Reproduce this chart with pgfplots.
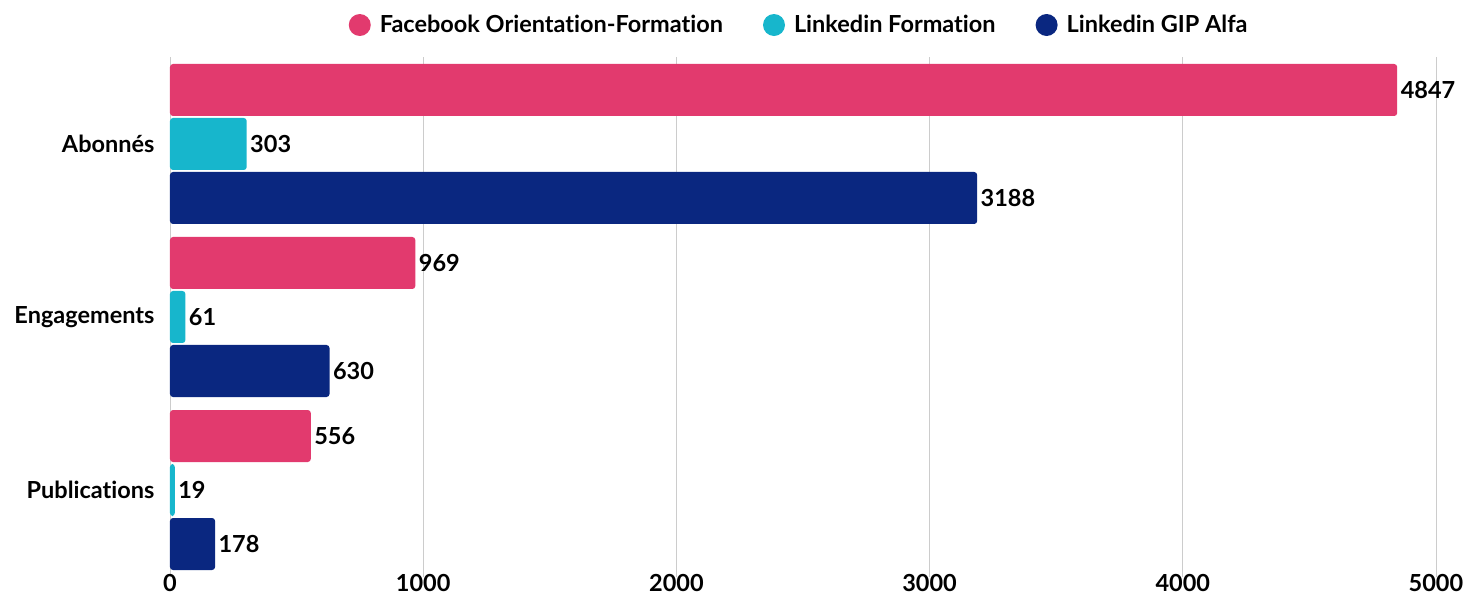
\documentclass[border=0pt]{standalone}
\usepackage{fontspec}
\setmainfont{Lato}[Ligatures={NoCommon,NoRare,NoContextual}]
\usepackage{pgfplots}
\pgfplotsset{compat=1.18}
\definecolor{pinkc}{HTML}{E23A6E}
\definecolor{cyanc}{HTML}{17B6CC}
\definecolor{navyc}{HTML}{0A2780}
\begin{document}
\begin{tikzpicture}[x=1pt,y=1pt]
\path[use as bounding box] (-170,-23.5) rectangle (1311,576.5);
\begin{axis}[
  at={(0,0)}, anchor=south west,
  scale only axis, width=1266pt, height=519pt,
  xbar, bar width=52pt,
  xmin=0, xmax=5000, ymin=-0.5, ymax=2.5,
  ytick={0,1,2}, yticklabels={Publications,Engagements,Abonnés},
  xtick={0,1000,2000,3000,4000,5000},
  axis line style={draw=none}, major tick length=0pt,
  xmajorgrids, grid style={black!20, line width=0.9pt},
  /pgf/number format/1000 sep={},
  /pgf/number format/assume math mode=true,
  tick label style={font=\bfseries\fontsize{23.5}{23.5}\selectfont, black},
  yticklabel style={xshift=-12pt},
  xticklabel style={yshift=3pt, inner sep=1pt},
  nodes near coords,
  nodes near coords style={font=\bfseries\fontsize{23.5}{23.5}\selectfont, black, anchor=west, xshift=0pt},
  legend style={at={(0.497,1.0626)}, anchor=center, draw=none, fill=none,
    legend columns=3, font=\bfseries\fontsize{23.5}{23.5}\selectfont,
    /tikz/every even column/.append style={column sep=38pt},
    /tikz/every odd column/.append style={column sep=0pt}},
  legend cell align=left,
]
\addplot[fill=pinkc, draw=none, rounded corners=3pt, bar shift=54pt,
  legend image code/.code={\fill[pinkc] (0pt,0pt) circle (11pt);}]
  coordinates {(4847,2) (969,1) (556,0)};
\addplot[fill=cyanc, draw=none, rounded corners=3pt, bar shift=0pt,
  legend image code/.code={\fill[cyanc] (0pt,0pt) circle (11pt);}]
  coordinates {(303,2) (61,1) (19,0)};
\addplot[fill=navyc, draw=none, rounded corners=3pt, bar shift=-54pt,
  legend image code/.code={\fill[navyc] (0pt,0pt) circle (11pt);}]
  coordinates {(3188,2) (630,1) (178,0)};
\legend{\hspace{7pt}Facebook Orientation-Formation, \hspace{7pt}Linkedin Formation, \hspace{7pt}Linkedin GIP Alfa}
\end{axis}
\end{tikzpicture}
\end{document}
